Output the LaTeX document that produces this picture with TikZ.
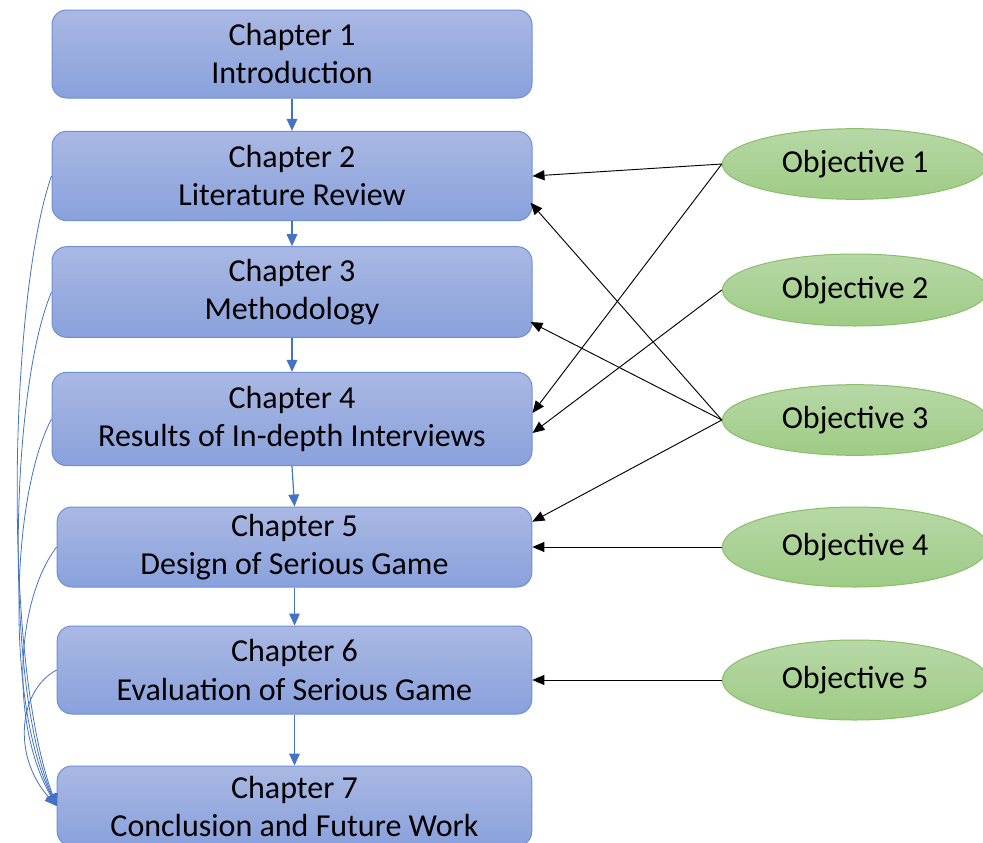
\documentclass[tikz,border=0pt]{standalone}
\usepackage{fontspec}
\setmainfont{Carlito}
\usetikzlibrary{arrows.meta,positioning,shapes.geometric}
\definecolor{boxtop}{RGB}{170,184,227}
\definecolor{boxbot}{RGB}{137,161,220}
\definecolor{boxline}{RGB}{110,143,214}
\definecolor{objtop}{RGB}{183,216,166}
\definecolor{objbot}{RGB}{158,203,133}
\definecolor{objline}{RGB}{137,190,106}
\definecolor{flowblue}{RGB}{68,114,196}

\begin{document}
\begin{tikzpicture}[x=0.75pt,y=-0.75pt,
  chap/.style={draw=boxline,line width=0.75pt,rounded corners=11pt,
    top color=boxtop,bottom color=boxbot,inner sep=0pt,align=center,
    font=\fontsize{24}{28.5}\selectfont},
  obj/.style={ellipse,draw=objline,line width=0.75pt,top color=objtop,
    bottom color=objbot,inner sep=0pt,minimum width=199pt,
    font=\fontsize{24}{28.5}\selectfont},
  flow/.style={draw=flowblue,line width=0.9pt,-{Triangle[length=9pt,width=8pt]}},
  back/.style={draw=flowblue,line width=0.6pt,-{Triangle[length=9pt,width=8pt]}},
  link/.style={draw=black,line width=0.7pt,-{Triangle[length=9pt,width=7.5pt]}}]
\path[use as bounding box,clip] (0,0) rectangle (983,843);
% Chapters, top to bottom
\node[chap,minimum width=360pt,minimum height=66pt] (ch1) at (292,54) {Chapter 1\\Introduction};
\node[chap,minimum width=360pt,minimum height=67pt] (ch2) at (292,176) {Chapter 2\\Literature Review};
\node[chap,minimum width=360pt,minimum height=68pt] (ch3) at (292,292) {Chapter 3\\Methodology};
\node[chap,minimum width=360pt,minimum height=70pt] (ch4) at (292,419) {Chapter 4\\Results of In-depth Interviews};
\node[chap,minimum width=356pt,minimum height=60pt] (ch5) at (294.5,547) {Chapter 5\\Design of Serious Game};
\node[chap,minimum width=356pt,minimum height=66pt] (ch6) at (294.5,670) {Chapter 6\\Evaluation of Serious Game};
\node[chap,minimum width=356pt,minimum height=60pt] (ch7) at (294.5,806) {Chapter 7\\Conclusion and Future Work};
% Objectives
\node[obj,minimum height=53pt] (ob1) at (855,164) {Objective 1};
\node[obj,minimum height=54pt] (ob2) at (855,290) {Objective 2};
\node[obj,minimum height=53pt] (ob3) at (855,420) {Objective 3};
\node[obj,minimum height=60pt] (ob4) at (855,547) {Objective 4};
\node[obj,minimum height=60pt] (ob5) at (855,680) {Objective 5};
% Chapter sequence
\foreach \a/\b in {ch1/ch2,ch2/ch3,ch3/ch4,ch4/ch5,ch5/ch6,ch6/ch7}
  \draw[flow] (\a.south) -- (\b.north);
% Every chapter feeds the conclusion
\draw[back] (ch2.west) .. controls +(-42,120) and +(-55,-150) .. (ch7.west);
\draw[back] (ch3.west) .. controls +(-42,100) and +(-52,-120) .. (ch7.west);
\draw[back] (ch4.west) .. controls +(-42,80) and +(-50,-100) .. (ch7.west);
\draw[back] (ch5.west) .. controls +(-42,55) and +(-46,-80) .. (ch7.west);
\draw[back] (ch6.west) .. controls +(-38,20) and +(-45,-50) .. (ch7.west);
% Objectives to chapters
\draw[link] (ob1.west) -- (ch2.east);
\draw[link] (ob1.west) -- ([yshift=4.5pt]ch4.east);
\draw[link] (ob2.west) -- ([yshift=-10.5pt]ch4.east);
\draw[link] (ob3.west) -- ([xshift=-1.5pt,yshift=-20pt]ch2.east);
\draw[link] (ob3.west) -- ([xshift=-1.5pt,yshift=-22.5pt]ch3.east);
\draw[link] (ob3.west) -- ([yshift=19pt]ch5.east);
\draw[link] (ob4.west) -- (ob4.west -| ch5.east);
\draw[link] (ob5.west) -- (ob5.west -| ch6.east);
\end{tikzpicture}
\end{document}
